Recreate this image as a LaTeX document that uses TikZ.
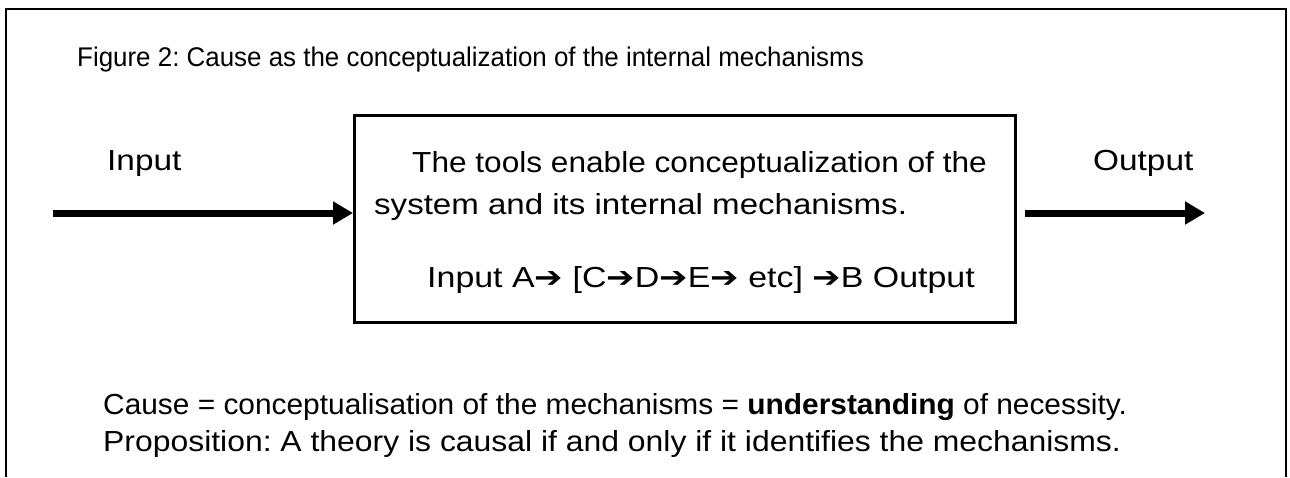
\documentclass[tikz,border=0pt]{standalone}
\usepackage{fontspec}
\setmainfont{Liberation Sans}
\newfontfamily\symfont{DejaVu Sans}
\usetikzlibrary{arrows.meta}
\newcommand{\rarr}{{\symfont\char"2794}}
\newcommand{\hs}[2]{\scalebox{#1}[1]{#2}}
\frenchspacing
\begin{document}
\begin{tikzpicture}[x=1pt,y=-1pt,
  frame/.style={line width=2.5pt},
  boxline/.style={line width=3pt},
  bigarrow/.style={line width=7pt,-{Triangle[length=20pt,width=22pt]}},
  txt/.style={anchor=base west,inner sep=0pt,font=\fontsize{29}{34}\selectfont},
]
\useasboundingbox (0,0) rectangle (1290,477);
% outer frame (open at the bottom)
\draw[frame] (6,477) -- (6,9) -- (1286,9) -- (1286,477);
% title
\node[txt,font=\fontsize{27}{32}\selectfont] (title) at (77,66) {\hs{0.96}{Figure 2: Cause as the conceptualization of the internal mechanisms}};
% central box
\node[draw,boxline,minimum width=661pt,minimum height=207pt,inner sep=0pt,anchor=north west] (box) at (353,114) {};
\node[txt] (l1) at (412,172) {\hs{1.09}{The tools enable conceptualization of the}};
\node[txt] (l2) at (374,214) {\hs{1.14}{system and its internal mechanisms.}};
\node[txt] (l3) at (427,287) {\hs{1.17}{Input A\rarr\ [C\rarr D\rarr E\rarr\ etc] \rarr B Output}};
% labels
\node[txt] (inlab) at (107,170) {\hs{1.15}{Input}};
\node[txt] (outlab) at (1093,170) {\hs{1.15}{Output}};
% arrows
\coordinate (inS) at (53,213);
\draw[bigarrow] (inS) -- (inS -| box.west);
\coordinate (outS) at (1025,213);
\coordinate (outE) at (1205,213);
\draw[bigarrow] (outS) -- (outE);
% bottom text
\node[txt] (cause) at (103,414) {\hs{1.03}{Cause = conceptualisation of the mechanisms = \textbf{understanding} of necessity.}};
\node[txt] (prop) at (103,451) {\hs{1.1}{Proposition: A theory is causal if and only if it identifies the mechanisms.}};
\end{tikzpicture}
\end{document}
